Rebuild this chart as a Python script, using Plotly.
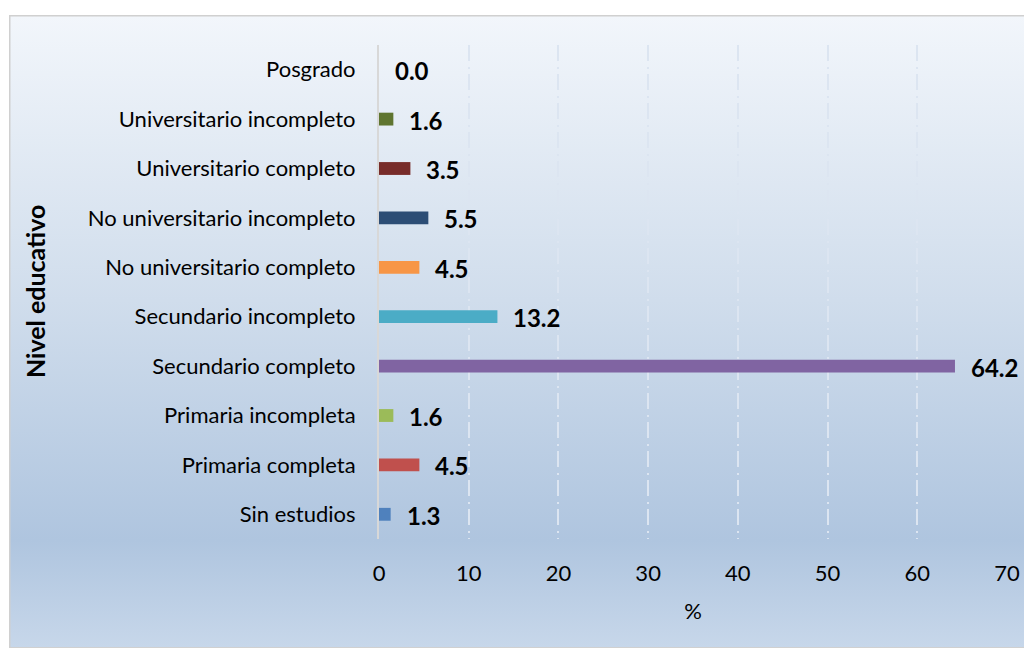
import base64
import plotly.graph_objects as go

# categorías de abajo hacia arriba
niveles = ["Sin estudios", "Primaria completa", "Primaria incompleta", "Secundario completo",
           "Secundario incompleto", "No universitario completo", "No universitario incompleto",
           "Universitario completo", "Universitario incompleto", "Posgrado"]
porcentajes = [1.3, 4.5, 1.6, 64.2, 13.2, 4.5, 5.5, 3.5, 1.6, 0.0]
colores = ["#4F81BD", "#C0504D", "#9BBB59", "#8064A2", "#4BACC6",
           "#F79646", "#2C4D75", "#772C2A", "#5F7530", "#4D3B62"]
x_ticks = [0, 10, 20, 30, 40, 50, 60, 70]

# la página tiene un margen de 8px, por eso la figura es algo más chica
W, H = 1024, 640
L, R, T, B = 371, 25, 37, 109
pw, ph = W - L - R, H - T - B

# fondo degradado tipo Excel como imagen SVG
bw, bh = W - 1, H - 7
svg = f"""<svg xmlns='http://www.w3.org/2000/svg' width='{bw}' height='{bh}' preserveAspectRatio='none'>
<defs><linearGradient id='g' x1='0' y1='0' x2='0' y2='1'>
<stop offset='0' stop-color='#f2f6fb'/>
<stop offset='0.45' stop-color='#d0ddec'/>
<stop offset='0.83' stop-color='#afc5df'/>
<stop offset='1' stop-color='#c7d7ea'/>
</linearGradient></defs>
<rect x='0.75' y='0.75' width='{bw-1}' height='{bh-1}' fill='url(#g)' stroke='#d0d0d0' stroke-width='1.5'/>
</svg>"""
bg = "data:image/svg+xml;base64," + base64.b64encode(svg.encode()).decode()

fig = go.Figure(go.Bar(
    x=porcentajes, y=niveles, orientation="h",
    marker=dict(color=colores, line=dict(width=0)),
    width=0.26, hoverinfo="x+y",
))

for v, n in zip(porcentajes, niveles):
    fig.add_annotation(x=v, y=n, text=f"<b>{v:.1f}</b>", showarrow=False,
                       xanchor="left", xshift=14, yshift=-1,
                       font=dict(size=24, color="black"))

fig.add_annotation(xref="paper", yref="paper", x=(27 - L) / pw, y=0.5,
                   xanchor="center", yanchor="middle",
                   text="<b>Nivel educativo</b>", textangle=-90, showarrow=False,
                   font=dict(size=25, color="black"))

fig.add_layout_image(source=bg, xref="paper", yref="paper",
                     x=(1 - L) / pw, y=(H - B - 7) / ph,
                     sizex=bw / pw, sizey=bh / ph,
                     sizing="stretch", xanchor="left", yanchor="top", layer="below")

fig.update_layout(
    width=W, height=H,
    margin=dict(l=L, r=R, t=T, b=B),
    paper_bgcolor="white", plot_bgcolor="rgba(0,0,0,0)",
    font=dict(family="Lato, Open Sans, sans-serif", size=22, color="black"),
    showlegend=False,
    bargap=0.74,
)
fig.update_xaxes(range=[0, 70], tickvals=x_ticks, showgrid=True, gridcolor="#dce5f1",
                 griddash="16px,6px,2px,5px", gridwidth=2, zeroline=False, showline=False,
                 ticks="outside", ticklen=15, tickcolor="rgba(0,0,0,0)",
                 title=dict(text="%", standoff=18, font=dict(size=22)))
fig.update_yaxes(categoryorder="array", categoryarray=niveles, showgrid=False,
                 showline=True, linecolor="#d8d8d8", linewidth=2, zeroline=False,
                 ticks="outside", ticklen=17, tickcolor="rgba(0,0,0,0)")

fig.write_html("out.html")
